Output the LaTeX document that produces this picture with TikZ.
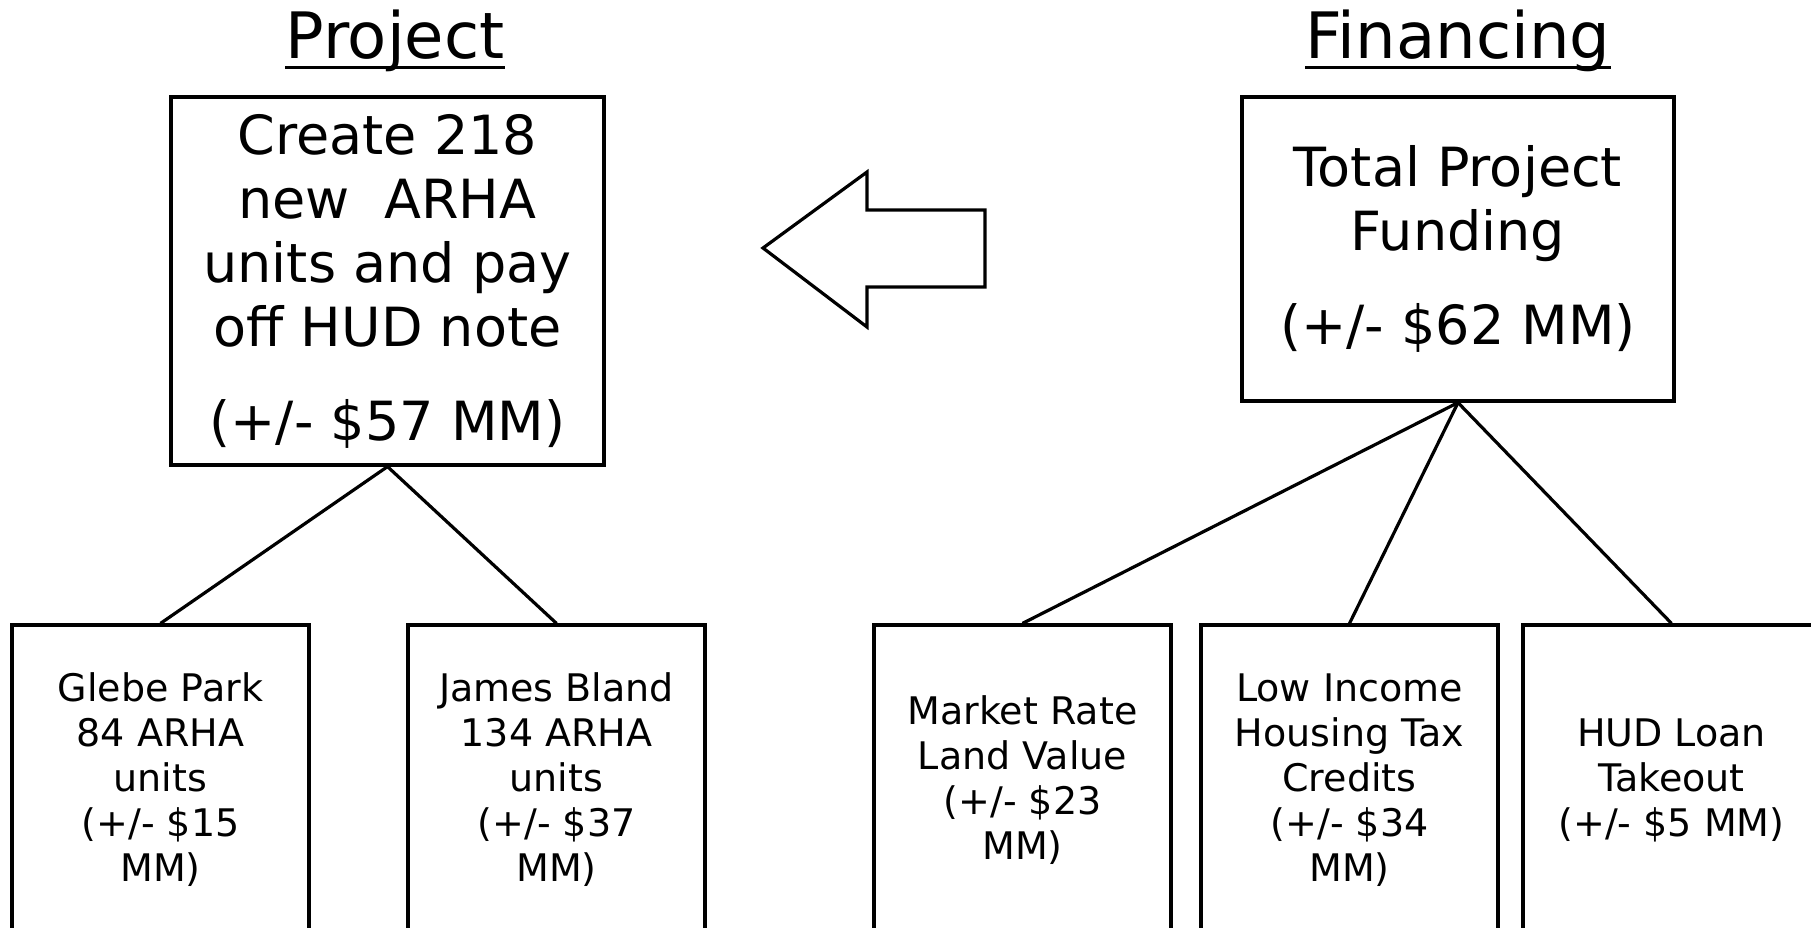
\documentclass[tikz,border=0pt]{standalone}
\usepackage{fontspec}
\setmainfont{DejaVu Sans}

\begin{document}
\begin{tikzpicture}[x=0.5pt,y=-0.5pt,
  box/.style={draw,line width=1.6pt,inner sep=0pt,align=center},
  bigbox/.style={box,font=\fontsize{27}{32}\selectfont},
  leaf/.style={box,minimum width=148.5pt,minimum height=155pt,font=\fontsize{19}{22.5}\selectfont},
  ttl/.style={inner sep=0pt,font=\fontsize{32}{38}\selectfont},
  link/.style={line width=1.6pt}]
\useasboundingbox (0,0) rectangle (1811,927);
\clip (0,0) rectangle (1811,927);
% titles
\node[ttl,anchor=base] (tproj) at (395,58) {Project};
\node[ttl,anchor=base] (tfin) at (1458,58) {Financing};
\foreach \t in {tproj,tfin} {
   \draw[line width=1.5pt] ([yshift=-4.5pt]\t.base west) -- ([yshift=-4.5pt]\t.base east);
}
% top boxes
\node[bigbox,minimum width=216.5pt,minimum height=184pt] (proj) at (387.5,281)
   {Create 218\\ new~~ARHA\\ units and pay\\ off HUD note\\[15pt] (+/- \$57 MM)};
\node[bigbox,minimum width=216pt,minimum height=152pt] (fund) at (1458,249)
   {Total Project\\ Funding\\[15pt] (+/- \$62 MM)};
% arrow
\draw[line width=1.6pt] (763,248) -- (867,172) -- (867,210) -- (985,210)
   -- (985,287) -- (867,287) -- (867,327) -- cycle;
% bottom boxes
\node[leaf] (glebe) at (160.5,780) {Glebe Park\\ 84 ARHA\\ units\\ (+/- \$15\\ MM)};
\node[leaf] (bland) at (556.5,780) {James Bland\\ 134 ARHA\\ units\\ (+/- \$37\\ MM)};
\node[leaf] (land) at (1022.5,780) {Market Rate\\ Land Value\\ (+/- \$23\\ MM)};
\node[leaf] (lihtc) at (1349.5,780) {Low Income\\ Housing Tax\\ Credits\\ (+/- \$34\\ MM)};
\node[leaf] (hud) at (1671.5,780) {HUD Loan\\ Takeout\\ (+/- \$5 MM)};
% links
\foreach \a/\b in {proj/glebe,proj/bland,fund/land,fund/lihtc,fund/hud} {
   \draw[link] (\a.south) -- (\b.north);
}
\end{tikzpicture}
\end{document}
